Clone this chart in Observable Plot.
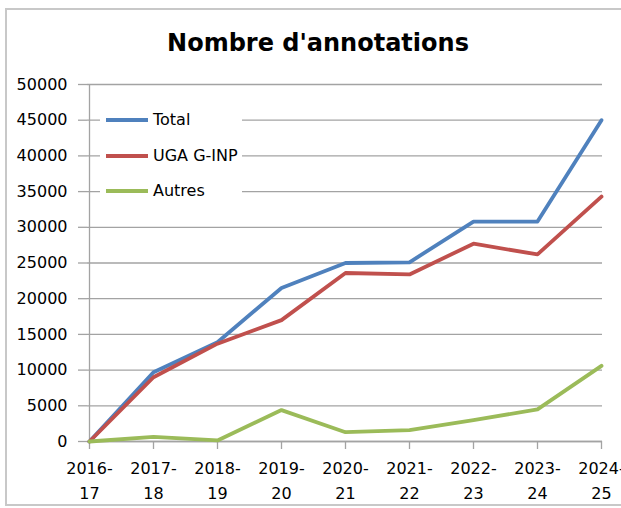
<!DOCTYPE html>
<html>
<head>
<meta charset="utf-8">
<script src="https://cdn.jsdelivr.net/npm/d3@7"></script>
<script src="https://cdn.jsdelivr.net/npm/@observablehq/plot@0.6"></script>
<style>
  html, body { margin: 0; padding: 0; background: #fff; }
  #wrap { position: relative; width: 621px; height: 508px; overflow: hidden; font-family: "DejaVu Sans", sans-serif; }
  #frame { position: absolute; left: 5px; top: 8px; width: 640px; height: 498px; border: 2px solid #c8c8c8; box-sizing: border-box; }
  #title { position: absolute; left: 0; top: 31px; width: 636px; text-align: center; font-size: 24px; line-height: 24px; font-weight: bold; color: #000; }
  #chart { position: absolute; left: 0; top: 64px; }
  #legend { position: absolute; left: 100px; top: 101px; width: 142px; height: 108px; background: #fff; }
  .item { position: absolute; left: 6px; height: 20px; font-size: 16px; line-height: 20px; color: #000; white-space: nowrap; }
  .swatch { position: absolute; left: 0; top: 8px; width: 42px; height: 4px; }
  .label { position: absolute; left: 47px; top: 0; }
</style>
</head>
<body>
<div id="wrap">
  <div id="frame"></div>
  <div id="title">Nombre d'annotations</div>
  <div id="chart"></div>
  <div id="legend"></div>
</div>
<script>
const categories = ["2016-17", "2017-18", "2018-19", "2019-20", "2020-21", "2021-22", "2022-23", "2023-24", "2024-25"];
const total  = [0, 9700, 13900, 21500, 25000, 25100, 30800, 30800, 45000];
const uga    = [0, 9000, 13700, 17000, 23600, 23400, 27700, 26200, 34300];
const autres = [0, 650, 150, 4400, 1300, 1600, 3000, 4500, 10600];
const seriesNames = ["Total", "UGA G-INP", "Autres"];
const seriesColors = ["#4F81BD", "#C0504D", "#9BBB59"];
const yTicks = [0, 5000, 10000, 15000, 20000, 25000, 30000, 35000, 40000, 45000, 50000];

const seriesValues = [total, uga, autres];
const rows = [];
seriesNames.forEach((s, i) => {
  categories.forEach((c, j) => rows.push({ cat: c, value: seriesValues[i][j], series: s }));
});

const gray = "#a3a3a3";
const chart = Plot.plot({
  width: 621,
  height: 444,
  marginTop: 20,
  marginLeft: 87,
  marginRight: 19,
  marginBottom: 67,
  style: { fontFamily: "DejaVu Sans", fontSize: "16px", background: "transparent", color: "#000" },
  x: { type: "point", domain: categories, padding: 0 },
  y: { domain: [0, 50000] },
  color: { domain: seriesNames, range: seriesColors },
  marks: [
    Plot.gridY(yTicks, { stroke: gray, strokeOpacity: 1, strokeWidth: 1.3 }),
    Plot.axisY(yTicks, { tickSize: 9, tickPadding: 11, stroke: gray, strokeWidth: 1.3, fill: "#000", fontSize: 16, label: null, tickFormat: d => String(d) }),
    Plot.axisX(categories, { tickSize: 8, tickPadding: 7, stroke: gray, strokeWidth: 1.3, fill: "#000", fontSize: 16, lineHeight: 1.56, tickFormat: d => d.replace("-", "-\n"), label: null }),
    Plot.ruleX([categories[0]], { stroke: gray, strokeWidth: 1.3 }),
    Plot.ruleY([0], { stroke: gray, strokeWidth: 1.3 }),
    Plot.line(rows, { x: "cat", y: "value", z: "series", stroke: "series", strokeWidth: 3.8, strokeLinejoin: "round", strokeLinecap: "round" })
  ]
});
document.getElementById("chart").appendChild(chart);

const legend = document.getElementById("legend");
seriesNames.forEach((s, i) => {
  const item = document.createElement("div");
  item.className = "item";
  item.style.top = (9 + i * 35.7) + "px";
  const sw = document.createElement("div");
  sw.className = "swatch";
  sw.style.background = seriesColors[i];
  const lb = document.createElement("div");
  lb.className = "label";
  lb.textContent = s;
  item.appendChild(sw);
  item.appendChild(lb);
  legend.appendChild(item);
});
</script>
</body>
</html>
